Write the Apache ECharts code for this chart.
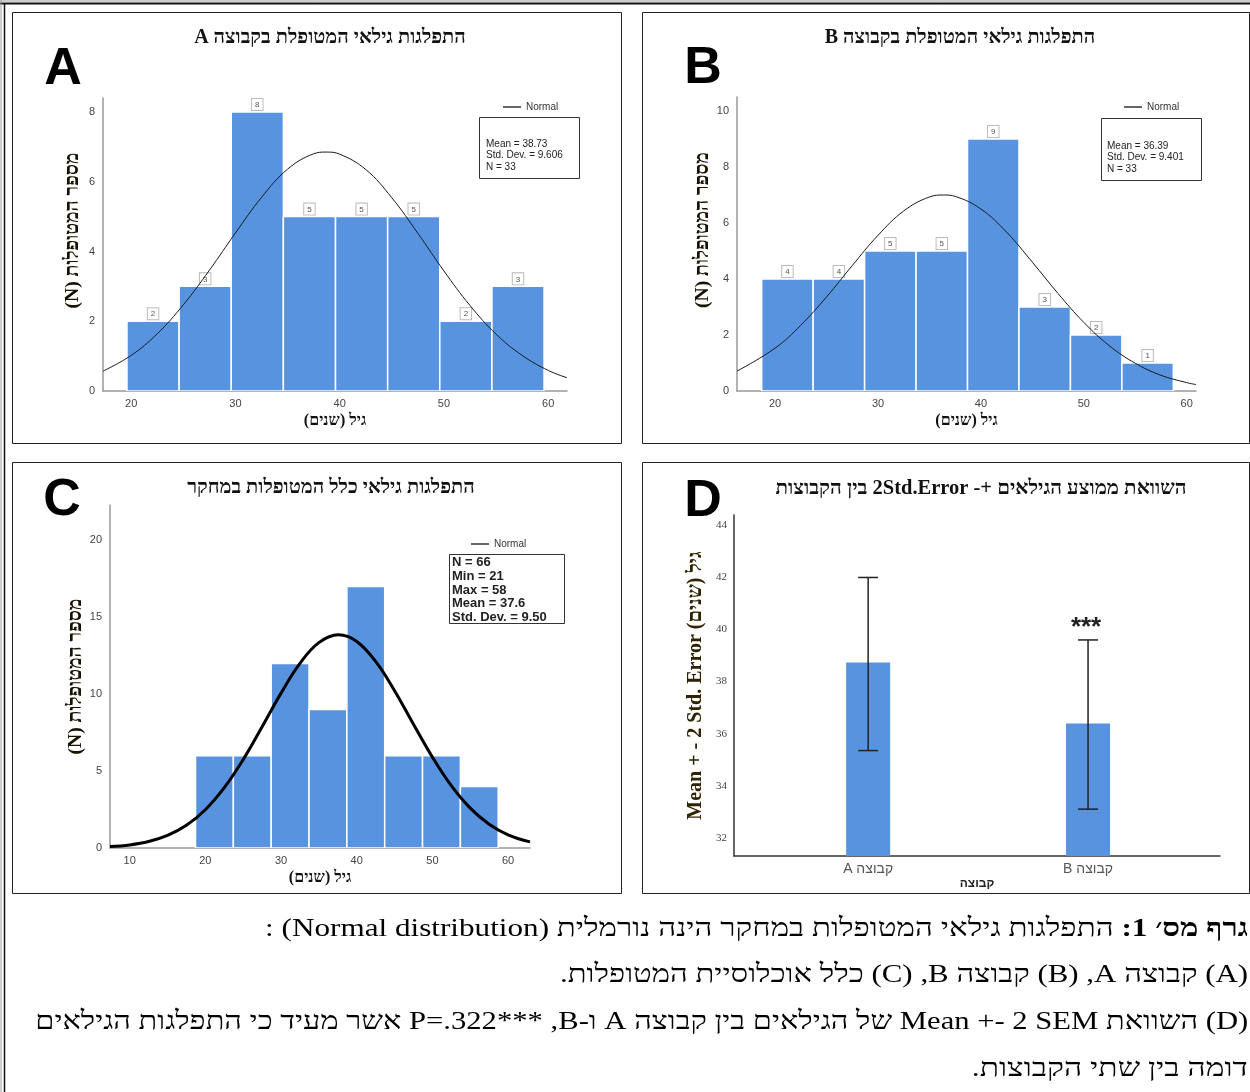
<!DOCTYPE html>
<html lang="he">
<head>
<meta charset="utf-8">
<script src="https://cdn.jsdelivr.net/npm/echarts@6/dist/echarts.min.js"></script>
<style>
html, body { margin: 0; padding: 0; background: #fff; }
#main { position: absolute; left: 0; top: 0; width: 1250px; height: 1092px; }
#caption { position: absolute; left: 0; top: 0; width: 1250px; height: 1092px; pointer-events: none;
  font-family: "Liberation Serif", "DejaVu Serif", serif; color: #000; }
.cap { position: absolute; right: 2px; white-space: nowrap; font-size: 26px; line-height: 30px; transform-origin: right center; }
</style>
</head>
<body>
<div id="main" dir="rtl"></div>
<div id="caption" dir="rtl">
  <div class="cap" style="top:913px"><b>גרף מס׳ 1:</b> התפלגות גילאי המטופלות במחקר הינה נורמלית (Normal distribution) :</div>
  <div class="cap" style="top:959px">(A) קבוצה A&rlm;, (B) קבוצה B&rlm;, (C) כלל אוכלוסיית המטופלות.</div>
  <div class="cap" style="top:1006px">(D) השוואת Mean +- 2 SEM של הגילאים בין קבוצה A ו-B&rlm;, &#x2066;P=.322***&#x2069; אשר מעיד כי התפלגות הגילאים</div>
  <div class="cap" style="top:1053px">דומה בין שתי הקבוצות.</div>
</div>
<script>
// ---- data ----
var binEdgesA = [19.6, 24.6, 29.6, 34.6, 39.6, 44.6, 49.6, 54.6, 59.6];
var countsA = [2, 3, 8, 5, 5, 5, 2, 3];
var binEdgesB = [18.7, 23.7, 28.7, 33.7, 38.7, 43.7, 48.7, 53.7, 58.7];
var countsB = [4, 4, 5, 5, 9, 3, 2, 1];
var binEdgesC = [18.7, 23.7, 28.7, 33.7, 38.7, 43.7, 48.7, 53.7, 58.7];
var countsC = [6, 6, 12, 9, 17, 6, 6, 4];

// normal curves
var curveAx = [17.3, 20, 22.5, 25, 27.5, 30, 32.5, 35, 37.5, 38.7, 40, 42.5, 45, 47.5, 50, 52.5, 55, 57.5, 60, 61.8];
var curveAy = [0.57, 1.02, 1.64, 2.47, 3.46, 4.53, 5.55, 6.36, 6.80, 6.85, 6.79, 6.35, 5.54, 4.52, 3.44, 2.45, 1.63, 1.02, 0.59, 0.38];
var curveBx = [16.3, 20, 22.5, 25, 27.5, 30, 32.5, 35, 36.4, 37.5, 40, 42.5, 45, 47.5, 50, 52.5, 55, 57.5, 60, 60.9];
var curveBy = [0.71, 1.53, 2.35, 3.36, 4.48, 5.56, 6.43, 6.93, 7.0, 6.95, 6.50, 5.67, 4.60, 3.48, 2.45, 1.61, 0.99, 0.56, 0.30, 0.23];
var curveCx = [7.4, 10, 12.5, 15, 17.5, 20, 22.5, 25, 27.5, 30, 32.5, 35, 37.6, 40, 42.5, 45, 47.5, 50, 52.5, 55, 57.5, 60, 62.9];
var curveCy = [0.09, 0.20, 0.42, 0.82, 1.48, 2.49, 3.92, 5.75, 7.88, 10.07, 12.0, 13.35, 13.86, 13.43, 12.13, 10.23, 8.05, 5.91, 4.05, 2.59, 1.55, 0.86, 0.40];

var statsA = ['Mean = 38.73', 'Std. Dev. = 9.606', 'N = 33'];
var statsB = ['Mean = 36.39', 'Std. Dev. = 9.401', 'N = 33'];
var statsC = ['N = 66', 'Min = 21', 'Max = 58', 'Mean = 37.6', 'Std. Dev. = 9.50'];

var groups = ['קבוצה A', 'קבוצה B'];
var groupPos = [1, 2];
var means = [38.73, 36.39];
var errLow = [35.35, 33.1];
var errHigh = [42.0, 39.6];
var sigMarks = ['', '***'];

var ageTicks = [20, 30, 40, 50, 60];
var ageTicksC = [10, 20, 30, 40, 50, 60];
var countTicksA = [0, 2, 4, 6, 8];
var countTicksB = [0, 2, 4, 6, 8, 10];
var countTicksC = [0, 5, 10, 15, 20];
var meanTicksD = [32, 34, 36, 38, 40, 42, 44];

var titleA = 'התפלגות גילאי המטופלת בקבוצה A';
var titleB = 'התפלגות גילאי המטופלת בקבוצה B';
var titleC = 'התפלגות גילאי כלל המטופלות במחקר';
var titleD = 'השוואת ממוצע הגילאים +- 2Std.Error בין הקבוצות';
var yNameHist = 'מספר המטופלות (N)';
var xNameHist = 'גיל (שנים)';
var yNameD = 'גיל (שנים) Mean + - 2 Std. Error';
var xNameD = 'קבוצה';

var BAR = '#5893e0';
var SANS = '"Liberation Sans", Arial, sans-serif';
var SERIF = '"Liberation Serif", "Times New Roman", serif';

function binData(edges, counts) {
    var out = [];
    for (var i = 0; i < counts.length; i++) out.push([edges[i], edges[i + 1], counts[i]]);
    return out;
}
function pairs(xs, ys) {
    return xs.map(function (x, i) { return [x, ys[i]]; });
}

function histRender(boxed) {
    return function (params, api) {
        var p0 = api.coord([api.value(0), api.value(2)]);
        var p1 = api.coord([api.value(1), 0]);
        var kids = [{
            type: 'rect',
            shape: { x: p0[0], y: p0[1], width: p1[0] - p0[0], height: p1[1] - p0[1] },
            style: { fill: BAR, stroke: '#fff', lineWidth: 1.5 }
        }];
        if (boxed) {
            kids.push({
                type: 'text', x: (p0[0] + p1[0]) / 2, y: p0[1] - 2,
                style: { text: String(api.value(2)), font: '8px ' + SANS, fill: '#555', align: 'center', verticalAlign: 'bottom',
                    backgroundColor: '#fff', borderColor: '#bbb', borderWidth: 1, padding: [2, 3, 1, 3] }
            });
        }
        return { type: 'group', children: kids };
    };
}

function histX(idx, min, max, ticks) {
    return {
        type: 'value', gridIndex: idx, min: min, max: max,
        name: xNameHist, nameLocation: 'middle', nameGap: 22,
        nameTextStyle: { fontSize: 16, fontWeight: 'bold', fontFamily: SERIF, color: '#111' },
        axisLine: { show: true, lineStyle: { color: '#999', width: 1.5 } },
        axisTick: { show: false }, splitLine: { show: false },
        axisLabel: { customValues: ticks, margin: 7, fontSize: 11, fontFamily: SANS, color: '#444' }
    };
}
function histY(idx, max, ticks, pad) {
    return {
        type: 'value', gridIndex: idx, min: 0, max: max,
        name: yNameHist, nameLocation: 'middle', nameGap: 20,
        nameTextStyle: { fontSize: 19.5, fontWeight: 'bold', fontFamily: SERIF, color: '#1a1200', padding: [0, 0, 0, pad] },
        axisLine: { show: true, lineStyle: { color: '#999', width: 1.5 } },
        axisTick: { show: false }, splitLine: { show: false },
        axisLabel: { customValues: ticks, margin: 8, fontSize: 11, fontFamily: SANS, color: '#444' }
    };
}

function frame(x, y, w, h) {
    return { type: 'rect', shape: { x: x, y: y, width: w, height: h }, style: { fill: 'none', stroke: '#222', lineWidth: 1 } };
}
function label(txt, x, y, font, color) {
    return { type: 'text', x: x, y: y, style: { text: txt, font: font, fill: color || '#111', align: 'center', verticalAlign: 'middle' } };
}
function statBox(lines, x, y, w, h, tx, ty, font, lh) {
    return {
        type: 'group', children: [
            { type: 'rect', shape: { x: x, y: y, width: w, height: h }, style: { fill: '#fff', stroke: '#333', lineWidth: 1 } },
            { type: 'text', x: tx, y: ty, style: { text: lines.join('\n'), font: font, fill: '#222', lineHeight: lh } }
        ]
    };
}

var chart = echarts.init(document.getElementById('main'));

var legendBase = {
    data: ['Normal'], orient: 'horizontal', icon: 'rect', itemWidth: 18, itemHeight: 1.5, padding: 0,
    itemStyle: { color: '#333' }, selectedMode: false,
    textStyle: { fontSize: 10, fontFamily: SANS, color: '#333' }
};

var option = {
    backgroundColor: '#fff',
    animation: false,
    graphic: [
        // outer page frame
        { type: 'line', shape: { x1: 0, y1: 1, x2: 1250, y2: 1 }, style: { stroke: '#999', lineWidth: 1 } },
        { type: 'line', shape: { x1: 0, y1: 3.5, x2: 1250, y2: 3.5 }, style: { stroke: '#111', lineWidth: 2 } },
        { type: 'line', shape: { x1: 1, y1: 0, x2: 1, y2: 1092 }, style: { stroke: '#999', lineWidth: 1 } },
        { type: 'line', shape: { x1: 4.5, y1: 3, x2: 4.5, y2: 1092 }, style: { stroke: '#111', lineWidth: 1.5 } },
        frame(12.5, 12.5, 609, 431),
        frame(642.5, 12.5, 607, 431),
        frame(12.5, 462.5, 609, 431),
        frame(642.5, 462.5, 607, 431),
        label('A', 63, 70, 'bold 52px ' + SANS, '#000'),
        label('B', 703, 69, 'bold 52px ' + SANS, '#000'),
        label('C', 62, 501, 'bold 52px ' + SANS, '#000'),
        label('D', 703, 502, 'bold 52px ' + SANS, '#000'),
        label(titleA, 330, 38, 'bold 20px ' + SERIF),
        label(titleB, 960, 38, 'bold 20px ' + SERIF),
        label(titleC, 331, 488, 'bold 20px ' + SERIF),
        label(titleD, 981, 489, 'bold 20.5px ' + SERIF),
        statBox(statsA, 479.5, 117.5, 100, 61, 486, 138, '10px ' + SANS, 11.5),
        statBox(statsB, 1101.5, 118.5, 100, 62, 1107, 140, '10px ' + SANS, 11.5),
        statBox(statsC, 449.5, 554.5, 115, 69, 452, 556, 'bold 13px ' + SANS, 13.6)
    ],
    legend: [
        Object.assign({ left: 503, top: 102 }, legendBase),
        Object.assign({ left: 1124, top: 102 }, legendBase),
        Object.assign({ left: 471, top: 539 }, legendBase)
    ],
    grid: [
        { left: 103, top: 98, width: 464, height: 293 },
        { left: 737, top: 97, width: 459, height: 294 },
        { left: 110, top: 505, width: 420, height: 343 },
        { left: 734, top: 515, width: 486, height: 341 }
    ],
    xAxis: [
        histX(0, 17.3, 61.8, ageTicks),
        histX(1, 16.3, 60.9, ageTicks),
        histX(2, 7.4, 62.9, ageTicksC),
        {
            type: 'value', gridIndex: 3, min: 0.39, max: 2.6,
            name: xNameD, nameLocation: 'middle', nameGap: 22,
            nameTextStyle: { fontSize: 12, fontWeight: 'bold', fontFamily: SANS, color: '#222' },
            axisLine: { show: true, lineStyle: { color: '#333', width: 1.5 } },
            axisTick: { show: false }, splitLine: { show: false },
            axisLabel: { customValues: groupPos, margin: 6, fontSize: 14, fontFamily: SANS, color: '#555',
                formatter: function (v) { return groups[groupPos.indexOf(v)]; } }
        }
    ],
    yAxis: [
        histY(0, 8.4, countTicksA, 28),
        histY(1, 10.5, countTicksB, 28),
        histY(2, 22.3, countTicksC, 0),
        {
            type: 'value', gridIndex: 3, min: 31.3, max: 44.4,
            name: yNameD, nameLocation: 'middle', nameGap: 28,
            nameTextStyle: { fontSize: 20, fontWeight: 'bold', fontFamily: SERIF, color: '#2e2200' },
            axisLine: { show: true, lineStyle: { color: '#333', width: 1.5 } },
            axisTick: { show: false }, splitLine: { show: false },
            axisLabel: { customValues: meanTicksD, margin: 7, fontSize: 11, fontFamily: SERIF, color: '#444' }
        }
    ],
    series: [
        { type: 'custom', xAxisIndex: 0, yAxisIndex: 0, renderItem: histRender(true), data: binData(binEdgesA, countsA), encode: { x: [0, 1], y: 2 }, clip: true, z: 2 },
        { type: 'line', name: 'Normal', xAxisIndex: 0, yAxisIndex: 0, data: pairs(curveAx, curveAy), smooth: 0.4, symbol: 'none', itemStyle: { color: '#1a1a1a' }, lineStyle: { color: '#1a1a1a', width: 1 }, z: 3 },
        { type: 'custom', xAxisIndex: 1, yAxisIndex: 1, renderItem: histRender(true), data: binData(binEdgesB, countsB), encode: { x: [0, 1], y: 2 }, clip: true, z: 2 },
        { type: 'line', name: 'Normal', xAxisIndex: 1, yAxisIndex: 1, data: pairs(curveBx, curveBy), smooth: 0.4, symbol: 'none', itemStyle: { color: '#1a1a1a' }, lineStyle: { color: '#1a1a1a', width: 1 }, z: 3 },
        { type: 'custom', xAxisIndex: 2, yAxisIndex: 2, renderItem: histRender(false), data: binData(binEdgesC, countsC), encode: { x: [0, 1], y: 2 }, clip: true, z: 2 },
        { type: 'line', name: 'Normal', xAxisIndex: 2, yAxisIndex: 2, data: pairs(curveCx, curveCy), smooth: 0.4, symbol: 'none', itemStyle: { color: '#000' }, lineStyle: { color: '#000', width: 3 }, z: 3 },
        { type: 'bar', xAxisIndex: 3, yAxisIndex: 3, barWidth: 44, itemStyle: { color: BAR },
          data: groupPos.map(function (p, i) { return [p, means[i]]; }), z: 2 },
        { type: 'custom', xAxisIndex: 3, yAxisIndex: 3, z: 4,
          data: groupPos.map(function (p, i) { return [p, errLow[i], errHigh[i]]; }),
          encode: { x: 0, y: [1, 2] },
          renderItem: function (params, api) {
              var x = api.value(0);
              var lo = api.coord([x, api.value(1)]);
              var hi = api.coord([x, api.value(2)]);
              var hw = 10;
              var st = { stroke: '#222', lineWidth: 1.5 };
              var kids = [
                  { type: 'line', shape: { x1: lo[0], y1: lo[1], x2: hi[0], y2: hi[1] }, style: st },
                  { type: 'line', shape: { x1: hi[0] - hw, y1: hi[1], x2: hi[0] + hw, y2: hi[1] }, style: st },
                  { type: 'line', shape: { x1: lo[0] - hw, y1: lo[1], x2: lo[0] + hw, y2: lo[1] }, style: st }
              ];
              var s = sigMarks[params.dataIndex];
              if (s) {
                  kids.push({ type: 'text', x: hi[0] - 2, y: hi[1] + 1, style: { text: s, font: 'bold 26px ' + SANS, fill: '#222', align: 'center', verticalAlign: 'bottom' } });
              }
              return { type: 'group', children: kids };
          }
        }
    ]
};

chart.setOption(option);

// squeeze each caption line to the width it takes in the source document
var capWidths = [983, 688, 1213, 276];
var caps = document.querySelectorAll('.cap');
for (var i = 0; i < caps.length; i++) {
    var w = caps[i].getBoundingClientRect().width;
    caps[i].style.transform = 'scaleX(' + (capWidths[i] / w) + ')';
}
</script>
</body>
</html>
